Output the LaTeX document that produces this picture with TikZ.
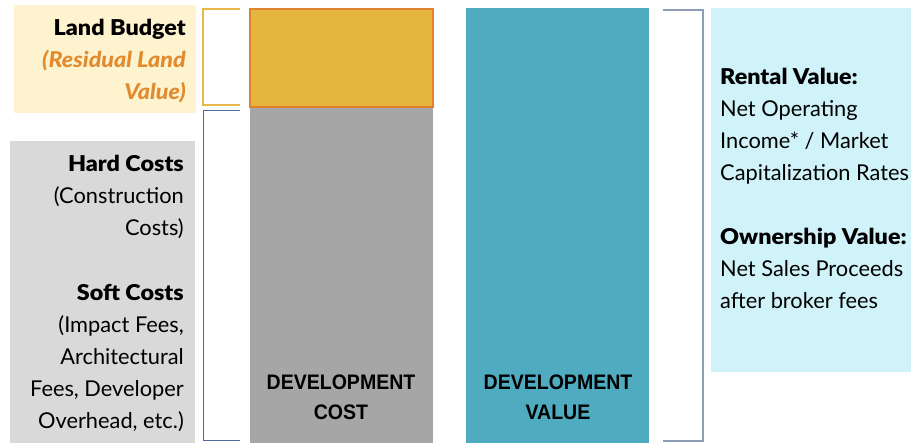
\documentclass[tikz,border=0pt]{standalone}
\usepackage{fontspec}
\setmainfont{Lato}[BoldFont={Lato Black}, BoldItalicFont={Lato Black Italic}, BoldFeatures={FakeStretch=1.07}, BoldItalicFeatures={FakeStretch=1.07}]
\newfontfamily\condfont[FakeStretch=0.93]{Liberation Sans}
\definecolor{landbg}{HTML}{FDF3CF}
\definecolor{costbg}{HTML}{D9D9D9}
\definecolor{landfill}{HTML}{E6B53D}
\definecolor{landedge}{HTML}{E1822F}
\definecolor{costcol}{HTML}{A6A6A6}
\definecolor{valcol}{HTML}{4FABBF}
\definecolor{valbg}{HTML}{D0F3F9}
\definecolor{brkyellow}{HTML}{E8B84A}
\definecolor{brkblue}{HTML}{4D6A96}
\definecolor{brkgray}{HTML}{8E9CB5}
\definecolor{orangetxt}{HTML}{E28B2E}
\tikzset{
  panel/.style={anchor=north west, inner sep=0pt, outer sep=0pt},
  lbl/.style={inner sep=0pt, font=\fontsize{21.8}{32}\selectfont},
  coltxt/.style={inner sep=0pt, align=center, font=\condfont\bfseries\fontsize{21}{30}\selectfont},
}
\begin{document}
\begin{tikzpicture}[x=1pt,y=-1pt]
\useasboundingbox (0,0) rectangle (911,443);
% background panels
\node[panel, fill=landbg, minimum width=182pt, minimum height=108pt] (landbg) at (14,5) {};
\node[panel, fill=costbg, minimum width=185pt, minimum height=302pt] (costbg) at (10,141) {};
\node[panel, fill=valbg, minimum width=200pt, minimum height=364pt] (valbg) at (711,8) {};
% columns
\node[panel, fill=costcol, minimum width=183pt, minimum height=336pt] (costcol) at (250,107) {};
\node[panel, fill=landfill, draw=landedge, line width=1.2pt, minimum width=183pt, minimum height=98pt] (landcol) at (250,9) {};
\node[panel, fill=valcol, minimum width=183pt, minimum height=435pt] (valcol) at (466,8) {};
% brackets
\coordinate (y1) at (240,9);
\coordinate (y2) at (240,105);
\draw[brkyellow, line width=1.6pt] (y1) -| (203,105) -- (y2);
\coordinate (b1) at (240,110);
\coordinate (b2) at (240,440);
\draw[brkblue, line width=0.9pt] (b1) -| (203,440) -- (b2);
\coordinate (r1) at (663,10);
\coordinate (r2) at (663,441);
\draw[brkgray, line width=1.1pt] (r1) -| (703,441) -- (r2);
% left texts
\node[lbl, anchor=north east, align=right] (landtxt) at (186,19)
  {\textbf{Land Budget}\\ \textcolor{orangetxt}{\bfseries\itshape (Residual Land}\\ \textcolor{orangetxt}{\bfseries\itshape Value)}};
\node[lbl, anchor=north east, align=right] (hardtxt) at (184,155)
  {\textbf{Hard Costs}\\ (Construction\\ Costs)\\[33pt] \textbf{Soft Costs}\\ (Impact Fees,\\ Architectural\\ Fees, Developer\\ Overhead, etc.)};
% right text
\node[lbl, anchor=north west, align=left] (valtxt) at (720,68)
  {\textbf{Rental Value:}\\ Net Operating\\ Income* / Market\\ Capitalization Rates\\[32pt] \textbf{Ownership Value:}\\ Net Sales Proceeds\\ after broker fees};
% column labels
\node[coltxt] (costlbl) at (341,397) {DEVELOPMENT\\COST};
\node[coltxt] (vallbl) at (558,397) {DEVELOPMENT\\VALUE};
\end{tikzpicture}
\end{document}
